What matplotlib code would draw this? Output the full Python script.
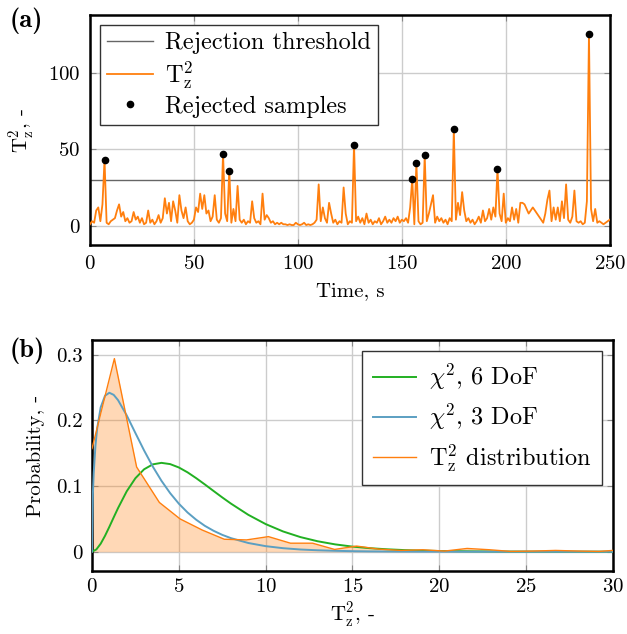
import matplotlib
matplotlib.use('Agg')
import matplotlib.pyplot as plt
import numpy as np

plt.rcParams['font.family'] = 'cmr10'
plt.rcParams['mathtext.fontset'] = 'cm'
plt.rcParams['axes.formatter.use_mathtext'] = True

# ---- panel (a): T2 statistic over time
time_s = list(range(0, 210)) + [211, 212, 213] + list(range(218, 251))
t2z = [1, 3, 2, 10, 12, 3, 14, 43, 2, 1,
       3, 4, 5, 10, 14, 6, 9, 3, 5, 2,
       3, 9, 4, 6, 2, 5, 1, 2, 10, 2,
       4, 1, 3, 7, 2, 5, 18, 8, 15, 3,
       16, 10, 2, 20, 10, 5, 12, 3, 1, 2,
       4, 12, 9, 21, 11, 20, 8, 10, 3, 6,
       20, 4, 2, 5, 47, 8, 3, 36, 2, 11,
       3, 26, 4, 2, 4, 1, 3, 2, 16, 5,
       2, 3, 1, 21, 4, 7, 5, 2, 3, 1,
       2, 1, 2, 1, 1, 0.5, 1, 0.5, 0.5, 2,
       1, 0.5, 1, 2, 0.5, 1, 0.5, 1, 2, 4,
       27, 3, 12, 5, 2, 15, 8, 2, 4, 1,
       3, 2, 25, 8, 1, 3, 2, 53, 3, 6,
       2, 5, 1, 8, 2, 4, 1, 3, 2, 5,
       1, 3, 6, 2, 4, 2, 5, 3, 6, 2,
       4, 3, 5, 2, 12, 30.5, 1, 41, 3, 1,
       2, 46, 3, 8, 14, 20, 2, 6, 3, 5,
       2, 4, 1, 5, 3, 63, 4, 15, 7, 22,
       10, 3, 5, 2, 4, 1, 3, 6, 2, 10,
       3, 5, 11, 4, 12, 6, 37, 8, 3, 21,
       2, 5, 3, 12, 4, 11, 2, 15, 15, 14,
       8, 10, 12,
       2, 8, 17, 23, 3, 12, 4, 12, 3, 16,
       5, 27, 4, 2, 6, 23, 3, 2, 3, 1,
       2, 16, 125, 11, 3, 11, 2, 3, 2, 1,
       2, 3, 4]
threshold = 30

time_s = np.array(time_s)
t2z = np.array(t2z, dtype=float)
rej = t2z > threshold

# ---- panel (b): distributions
x_chi3 = [0, 0.05, 0.1, 0.2, 0.3, 0.5, 0.75, 1.0, 1.25, 1.5, 2.0, 2.5, 3.0, 3.5,
          4.0, 4.5, 5.0, 5.5, 6.0, 6.5, 7.0, 7.5, 8, 9, 10, 11, 12, 13, 14, 15,
          16, 18, 20, 25, 30]
chi3 = [0, 0.0870, 0.1200, 0.1614, 0.1881, 0.2197, 0.2375, 0.2420, 0.2388, 0.2308,
        0.2076, 0.1807, 0.1542, 0.1297, 0.1080, 0.0892, 0.0732, 0.0598, 0.0487,
        0.0394, 0.0319, 0.0257, 0.0207, 0.0133, 0.0085, 0.0054, 0.0034, 0.0022,
        0.0014, 0.00085, 0.00054, 0.00021, 0.00008, 0.00001, 0.0]
x_chi6 = [0, 0.25, 0.5, 0.75, 1.0, 1.25, 1.5, 2.0, 2.5, 3.0, 3.5, 4.0, 4.5, 5.0,
          5.5, 6.0, 6.5, 7, 7.5, 8, 9, 10, 11, 12, 13, 14, 15, 16, 17, 18, 19, 20,
          22, 24, 26, 30]
chi6 = [0, 0.00345, 0.01217, 0.02419, 0.0379, 0.0523, 0.0664, 0.0920, 0.1119,
        0.1255, 0.1330, 0.1353, 0.1334, 0.1283, 0.1209, 0.1120, 0.1024, 0.0925,
        0.0827, 0.0733, 0.0562, 0.0421, 0.0309, 0.0223, 0.0159, 0.0112, 0.0078,
        0.0054, 0.0037, 0.0025, 0.0017, 0.0011, 0.0005, 0.00022, 0.0001, 0.00002]
x_hist = [0, 1.29, 2.57, 3.88, 5.07, 6.35, 7.62, 8.9, 10.16, 11.43, 12.7, 13.97,
          15.24, 16.5, 17.8, 19.05, 20.3, 21.6, 22.9, 24.1, 25.4, 26.7, 28.0,
          29.2, 30.0]
p_hist = [0.157, 0.294, 0.129, 0.075, 0.050, 0.033, 0.019, 0.018, 0.023, 0.013,
          0.013, 0.0035, 0.0086, 0.004, 0.002, 0.003, 0.001, 0.005, 0.003, 0.0005,
          0.001, 0.002, 0.001, 0.0005, 0.002]

orange = '#ff7f0e'
green = '#22b022'
blue = '#5b9fc2'
gridc = '#cccccc'

fig = plt.figure(figsize=(6.27, 6.34), dpi=100)
ax1 = fig.add_axes([0.1435, 0.6136, 0.829, 0.3627])
ax2 = fig.add_axes([0.1467, 0.0994, 0.831, 0.3643])

for ax in (ax1, ax2):
    ax.grid(True, color=gridc, linewidth=1.0)
    ax.set_axisbelow(True)
    for s in ax.spines.values():
        s.set_linewidth(1.8)
    ax.tick_params(direction='in', length=4, width=0.8, color='#888888',
                   labelsize=15, top=True, right=True, pad=7)

ax1.axhline(threshold, color='#666666', linewidth=1.0, label='Rejection threshold', zorder=2)
ax1.plot(time_s, t2z, color=orange, linewidth=1.3, label=r'$\mathrm{T}_\mathrm{z}^2$', zorder=3)
ax1.plot(time_s[rej], t2z[rej], 'o', color='black', markersize=4.5,
         linestyle='none', label='Rejected samples', zorder=4)
ax1.set_xlim(0, 250)
ax1.set_ylim(-12.5, 137.5)
ax1.set_xticks([0, 50, 100, 150, 200, 250])
ax1.set_yticks([0, 50, 100])
ax1.set_xlabel('Time, s', fontsize=15, labelpad=7)
ax1.set_ylabel(r'$\mathrm{T}_\mathrm{z}^2$, -', fontsize=15, labelpad=8)
leg1 = ax1.legend(loc='upper left', fontsize=17.5, fancybox=False, framealpha=1,
                  edgecolor='#333333', handlelength=1.9, borderpad=0.3,
                  labelspacing=0.2, handletextpad=0.5, borderaxespad=0.4)
leg1.get_frame().set_linewidth(1.0)

ax2.fill_between(x_hist, p_hist, 0, color=orange, alpha=0.3, linewidth=0, zorder=2)
ax2.plot(x_chi6, chi6, color=green, linewidth=1.4, label=r'$\chi^2$, 6 DoF', zorder=3)
ax2.plot(x_chi3, chi3, color=blue, linewidth=1.4, label=r'$\chi^2$, 3 DoF', zorder=3)
ax2.plot(x_hist, p_hist, color=orange, linewidth=1.0,
         label=r'$\mathrm{T}_\mathrm{z}^2$ distribution', zorder=4)
ax2.set_xlim(0, 30)
ax2.set_ylim(-0.0293, 0.3223)
ax2.set_xticks([0, 5, 10, 15, 20, 25, 30])
ax2.set_yticks([0, 0.1, 0.2, 0.3])
ax2.set_yticklabels(['0', '0.1', '0.2', '0.3'])
ax2.tick_params(axis='x', pad=5)
ax2.set_xlabel(r'$\mathrm{T}_\mathrm{z}^2$, -', fontsize=15, labelpad=3)
ax2.set_ylabel('Probability, -', fontsize=15, labelpad=8)
leg2 = ax2.legend(loc='upper right', fontsize=17.5, fancybox=False, framealpha=1,
                  edgecolor='#333333', handlelength=1.8, borderpad=0.45,
                  labelspacing=0.4, handletextpad=0.5, borderaxespad=0.45)
leg2.get_frame().set_linewidth(1.0)

fig.text(0.016, 0.968, '(a)', fontfamily='cmb10', fontsize=19, va='center')
fig.text(0.016, 0.447, '(b)', fontfamily='cmb10', fontsize=19, va='center')

fig.savefig('out.png', dpi=100)
